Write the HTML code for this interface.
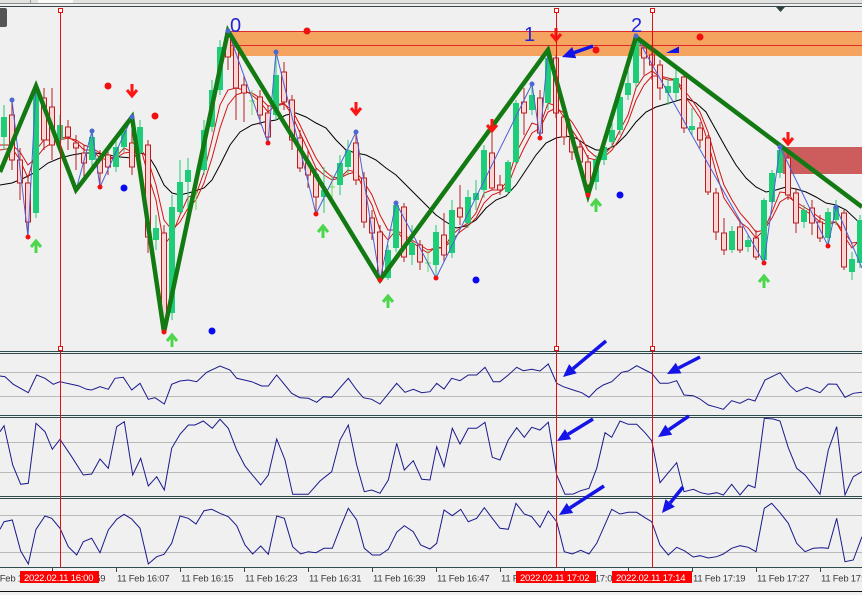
<!DOCTYPE html>
<html><head><meta charset="utf-8"><style>
html,body{margin:0;padding:0;background:#f0f0f0;}
svg{display:block;}
.t{font-family:"Liberation Sans",Arial,sans-serif;font-size:9.5px;letter-spacing:-0.25px;fill:#3a3a3a;}
.tb{font-family:"Liberation Sans",Arial,sans-serif;font-size:9.5px;letter-spacing:-0.25px;fill:#ffffff;}
.n{font-family:"Liberation Sans",Arial,sans-serif;font-size:20px;fill:#2424d4;}
</style></head><body>
<svg width="862" height="595" viewBox="0 0 862 595" xmlns="http://www.w3.org/2000/svg">
<defs>
<clipPath id="cm"><rect x="0" y="7" width="862" height="344"/></clipPath>
<clipPath id="c1"><rect x="0" y="354" width="862" height="61"/></clipPath>
<clipPath id="c2"><rect x="0" y="418" width="862" height="78"/></clipPath>
<clipPath id="c3"><rect x="0" y="499" width="862" height="68"/></clipPath>
</defs>
<rect x="0" y="0" width="862" height="595" fill="#f0f0f0"/>
<!-- top strip -->
<rect x="0" y="0" width="862" height="3" fill="#e2e2e2"/>
<rect x="38" y="0" width="35" height="3" fill="#fafafa"/>
<line x1="30.5" y1="0" x2="30.5" y2="3" stroke="#999"/>
<line x1="0" y1="3.5" x2="862" y2="3.5" stroke="#8c8c8c"/>
<line x1="0" y1="6.5" x2="862" y2="6.5" stroke="#34484a"/>
<rect x="-3" y="8" width="10" height="19" rx="2" fill="#555"/>
<polygon points="776,7 785,7 780.5,12" fill="#2f4040"/>

<g clip-path="url(#cm)">
<!-- zones -->
<rect x="230" y="31" width="632" height="25" fill="#f5a460"/>
<line x1="230" y1="31.5" x2="862" y2="31.5" stroke="#e02a2a"/>
<line x1="230" y1="45.5" x2="862" y2="45.5" stroke="#e02a2a"/>
<rect x="783" y="147" width="79" height="27" fill="#cd5c5c"/>
<!-- MAs -->
<polyline fill="none" stroke="#000" stroke-width="1" points="0,185 12,183 24,178 36,172 48,163 60,158 72,155 84,153 96,153 108,155 120,157 132,158 140,153 148,155 156,168 164,185 172,193 180,195 192,192 204,188 212,180 220,165 230,145 240,132 252,125 264,122 276,120 286,115 296,113 306,117 316,123 326,128 336,140 346,150 356,153 366,155 376,160 386,168 396,175 406,185 416,195 426,205 436,215 446,222 456,228 466,226 476,220 486,208 496,200 506,196 516,185 526,170 536,155 546,143 556,138 566,136 576,138 586,145 596,150 606,150 616,145 626,135 636,122 646,112 656,107 666,104 676,101 686,98 696,103 706,112 716,130 726,148 736,165 746,178 756,187 766,192 776,190 786,187 796,189 806,192 816,197 826,203 836,205 846,210 862,225"/>
<polyline fill="none" stroke="#d41414" stroke-width="1" points="0,145 12,145 20,152 28,165 36,158 44,148 52,143 60,140 68,138 76,140 84,145 92,148 100,153 108,157 116,158 124,153 132,152 140,148 148,160 156,185 164,220 172,230 180,222 188,208 196,200 204,183 212,158 220,128 228,105 236,95 244,92 252,93 260,98 268,106 276,106 284,104 292,110 300,125 308,142 316,158 324,170 332,177 340,178 348,174 356,172 364,182 372,195 380,215 388,230 396,230 404,235 412,240 420,245 428,250 436,248 444,248 452,240 460,232 468,226 476,218 484,203 492,195 500,192 508,185 516,165 524,148 532,133 540,128 548,112 556,108 564,113 572,122 580,135 588,150 596,157 604,157 612,150 620,138 628,122 636,100 644,85 652,76 660,76 668,78 676,80 684,90 692,100 700,112 708,132 716,160 724,185 732,200 740,213 748,222 756,232 764,230 772,218 780,202 788,197 796,202 804,207 812,212 820,218 828,222 836,222 844,232 852,243 860,242"/>
<polyline fill="none" stroke="#d41414" stroke-width="1" points="0,150 12,148 20,160 28,178 36,150 44,140 52,140 60,138 68,137 76,142 84,150 92,150 100,158 108,160 116,157 124,148 132,152 140,145 148,175 156,200 164,245 172,235 180,215 188,197 196,195 204,172 212,140 220,105 228,90 236,88 244,90 252,95 260,102 268,112 276,105 284,103 292,115 300,133 308,150 316,168 324,175 332,180 340,178 348,170 356,172 364,190 372,205 380,230 388,240 396,230 404,240 412,242 420,248 428,253 436,247 444,248 452,235 460,228 468,223 476,213 484,193 492,190 500,190 508,180 516,153 524,138 532,123 540,126 548,103 556,106 564,117 572,130 580,142 588,158 596,160 604,155 612,146 620,130 628,115 636,88 644,76 652,71 660,77 668,80 676,80 684,95 692,106 700,118 708,142 716,172 724,198 732,210 740,222 748,228 756,238 764,230 772,212 780,192 788,193 796,205 804,210 812,215 820,222 828,225 836,222 844,236 852,248 860,240"/>
<!-- candles -->
<path fill="none" stroke="#1ec874" stroke-width="1" d="M4 105V150M36 86V218M60 115V150M92 131V168M116 140V172M124 125V152M140 120V160M156 215V250M172 195V320M180 160V215M188 158V215M204 120V175M212 80V132M220 40V95M276 52V120M324 167V213M340 155V195M348 140V175M388 245V280M396 203V252M412 225V265M436 225V278M452 200V258M468 190V228M476 180V210M484 145V198M508 160V195M516 100V165M532 84V115M548 50V110M596 155V190M604 140V165M612 120V148M620 90V135M628 70V100M636 36V88M668 78V105M676 70V100M692 108V135M732 226V253M748 235V252M764 198V263M772 170V208M780 147V178M804 205V228M828 208V246M836 200V225M852 252V280M860 215V268"/>
<path fill="#1ecd78" d="M1 117h6V137h-6z M33 87h6V213h-6z M57 125h6V140h-6z M89 137h6V160h-6z M113 147h6V167h-6z M121 130h6V147h-6z M137 127h6V153h-6z M153 228h6V240h-6z M169 207h6V313h-6z M177 182h6V212h-6z M185 170h6V182h-6z M201 130h6V170h-6z M209 90h6V127h-6z M217 47h6V90h-6z M273 75h6V115h-6z M321 190h6V197h-6z M337 163h6V185h-6z M345 150h6V167h-6z M385 250h6V278h-6z M393 205h6V248h-6z M409 243h6V255h-6z M433 232h6V265h-6z M449 210h6V253h-6z M465 197h6V223h-6z M473 193h6V200h-6z M481 150h6V190h-6z M505 162h6V192h-6z M513 103h6V162h-6z M529 95h6V110h-6z M545 58h6V103h-6z M593 160h6V182h-6z M601 147h6V160h-6z M609 130h6V142h-6z M617 97h6V130h-6z M625 83h6V95h-6z M633 37h6V83h-6z M665 86h6V93h-6z M673 78h6V93h-6z M689 126h6V130h-6z M729 231h6V250h-6z M745 240h6V247h-6z M761 200h6V260h-6z M769 173h6V202h-6z M777 150h6V173h-6z M801 210h6V222h-6z M825 212h6V238h-6z M833 207h6V220h-6z M849 259h6V272h-6z M857 220h6V263h-6z"/>
<path fill="none" stroke="#b81e1e" stroke-width="1" d="M12 100V170M20 148V200M28 175V237M44 88V150M52 88V160M68 120V150M76 135V170M84 145V180M100 150V187M108 145V175M132 117V175M148 140V253M164 225V332M228 31V70M236 40V120M244 75V122M260 90V125M268 105V143M284 62V110M292 95V150M300 130V172M308 150V188M316 168V214M356 132V185M364 172V228M372 210V240M380 225V280M404 203V262M420 240V270M444 213V262M460 185V225M492 120V190M500 175V195M524 88V135M540 90V138M556 55V118M564 112V145M572 130V160M580 140V170M588 155V195M644 42V75M652 45V80M660 60V100M684 72V133M700 122V148M708 135V195M716 188V240M724 218V255M740 222V253M756 230V260M788 152V200M796 188V233M812 200V235M820 215V242M844 210V270"/>
<path fill="#fad4d4" stroke="#b81e1e" stroke-width="1" d="M9.5 115h5V160h-5z M17.5 160h5V183h-5z M25.5 183h5V222h-5z M41.5 98h5V140h-5z M49.5 107h5V145h-5z M65.5 127h5V137h-5z M73.5 143h5V148h-5z M81.5 153h5V163h-5z M97.5 160h5V173h-5z M105.5 155h5V167h-5z M129.5 143h5V167h-5z M145.5 145h5V237h-5z M161.5 233h5V327h-5z M225.5 33h5V57h-5z M233.5 47h5V88h-5z M241.5 85h5V93h-5z M257.5 97h5V115h-5z M265.5 113h5V137h-5z M281.5 72h5V102h-5z M289.5 100h5V140h-5z M297.5 138h5V168h-5z M305.5 163h5V175h-5z M313.5 175h5V197h-5z M353.5 143h5V180h-5z M361.5 178h5V222h-5z M369.5 218h5V233h-5z M377.5 232h5V277h-5z M401.5 207h5V257h-5z M417.5 245h5V262h-5z M441.5 235h5V255h-5z M457.5 208h5V217h-5z M489.5 153h5V188h-5z M497.5 185h5V190h-5z M521.5 102h5V113h-5z M537.5 98h5V133h-5z M553.5 58h5V113h-5z M561.5 117h5V137h-5z M569.5 138h5V152h-5z M577.5 147h5V162h-5z M585.5 162h5V185h-5z M641.5 48h5V58h-5z M649.5 55h5V65h-5z M657.5 65h5V88h-5z M681.5 77h5V128h-5z M697.5 128h5V140h-5z M705.5 138h5V192h-5z M713.5 193h5V232h-5z M721.5 233h5V250h-5z M737.5 227h5V250h-5z M753.5 238h5V257h-5z M785.5 158h5V195h-5z M793.5 193h5V223h-5z M809.5 208h5V223h-5z M817.5 222h5V238h-5z M841.5 213h5V267h-5z"/>
<path fill="none" stroke="#66dd55" stroke-width="1" d="M196 180V210M193 193h6M252 90V115M249 101h6M332 175V200M329 187h6M428 250V272M425 263h6"/>
<!-- thin zigzag -->
<polyline fill="none" stroke="#4a62d6" stroke-width="1" points="12,100 28,237 36,86 76,190 92,131 100,187 132,117 164,332 228,31 268,143 276,52 316,214 356,132 380,280 396,203 436,278 532,84 540,138 548,50 588,195 636,36 764,263 780,147 828,246 836,207 862,268"/>
<!-- main zigzag -->
<polyline fill="none" stroke="#137a13" stroke-width="4.5" stroke-linejoin="miter" points="0,172 36,86 76,190 132,117 164,332 228,31 380,280 548,50 588,195 636,37 862,207"/>
<!-- dots -->
<g fill="#4a6ad0">
<circle cx="12" cy="100" r="2.5"/><circle cx="92" cy="131" r="2.5"/><circle cx="132" cy="117" r="2.5"/><circle cx="228" cy="31" r="2.5"/><circle cx="276" cy="52" r="2.5"/><circle cx="356" cy="132" r="2.5"/><circle cx="396" cy="203" r="2.5"/><circle cx="532" cy="84" r="2.5"/><circle cx="636" cy="36" r="2.5"/><circle cx="780" cy="147" r="2.5"/><circle cx="836" cy="207" r="2.5"/>
</g>
<g fill="#f01010">
<circle cx="28" cy="237" r="2.5"/><circle cx="100" cy="187" r="2.5"/><circle cx="164" cy="332" r="2.5"/><circle cx="268" cy="143" r="2.5"/><circle cx="316" cy="214" r="2.5"/><circle cx="380" cy="280" r="2.5"/><circle cx="436" cy="278" r="2.5"/><circle cx="540" cy="138" r="2.5"/><circle cx="588" cy="195" r="2.5"/><circle cx="764" cy="263" r="2.5"/><circle cx="828" cy="246" r="2.5"/>
<circle cx="108" cy="86" r="3.5"/><circle cx="155" cy="116" r="3.5"/><circle cx="307" cy="31" r="3.5"/><circle cx="596" cy="50" r="3.5"/><circle cx="700" cy="37" r="3.5"/>
</g>
<g fill="#0a0af0">
<circle cx="124" cy="188" r="3.5"/><circle cx="212" cy="331" r="3.5"/><circle cx="476" cy="280" r="3.5"/><circle cx="620" cy="195" r="3.5"/>
</g>
<!-- red down arrows -->
<path fill="none" stroke="#ff1414" stroke-width="3" d="M132 84V96M127 90L132 96L137 90 M356 102V114M351 108L356 114L361 108 M492 119V131M487 125L492 131L497 125 M556 28V40M551 34L556 40L561 34 M788 132V144M783 138L788 144L793 138"/>
<!-- green up arrows -->
<path fill="none" stroke="#4cd64c" stroke-width="3" d="M36 253V241M31 247L36 241L41 247 M172 347V335M167 341L172 335L177 341 M323 238V226M318 232L323 226L328 232 M388 308V296M383 302L388 296L393 302 M596 212V200M591 206L596 200L601 206 M764 288V276M759 282L764 276L769 282"/>
<!-- labels -->
<text class="n" x="230" y="32">0</text>
<text class="n" x="524" y="41">1</text>
<text class="n" x="631" y="32">2</text>
<!-- blue main arrow -->
<line x1="593" y1="46" x2="574" y2="52.7" stroke="#1414e6" stroke-width="3.5"/>
<polygon points="562,57 572.2,47 576.2,58.3" fill="#1414e6"/>
<polygon points="666,53 679,46.5 679,53" fill="#1414e6"/>
</g>

<!-- subwindow gridlines -->
<g stroke="#b9b9b9" stroke-width="1">
<line x1="0" y1="372.5" x2="862" y2="372.5"/><line x1="0" y1="396.5" x2="862" y2="396.5"/>
<line x1="0" y1="442.5" x2="862" y2="442.5"/><line x1="0" y1="472.5" x2="862" y2="472.5"/>
<line x1="0" y1="515.5" x2="862" y2="515.5"/><line x1="0" y1="552.5" x2="862" y2="552.5"/>
</g>
<!-- separators -->
<g stroke="#2f4a4a" stroke-width="1">
<line x1="0" y1="351.5" x2="862" y2="351.5"/><line x1="0" y1="353.5" x2="862" y2="353.5"/>
<line x1="0" y1="415.5" x2="862" y2="415.5"/><line x1="0" y1="417.5" x2="862" y2="417.5"/>
<line x1="0" y1="496.5" x2="862" y2="496.5"/><line x1="0" y1="498.5" x2="862" y2="498.5"/>
<line x1="0" y1="567.5" x2="862" y2="567.5"/>
</g>
<!-- oscillators -->
<g fill="none" stroke="#1a1a8c" stroke-width="1">
<polyline clip-path="url(#c1)" points="0,376 5,376.7 13.3,384.3 28.3,392.7 36.7,375 45,378.3 53.3,384.3 60,381.7 66.7,383.3 78.3,385.7 86.7,389.3 91.7,390 100,386.7 108.3,389.3 115,378.3 123.3,377.3 131.7,390 140,383.3 148.3,399.3 155,397.7 164.3,404 171.7,384.3 180,381 188.3,380 196.7,381.7 206.7,372.3 220,366 230,370 236.7,378.3 251.7,381.7 261.7,386 268.3,386 276.7,375 291.7,393.3 300,397.7 308.3,398.3 316.7,402.3 323.3,396.7 331.7,397.3 348.3,378.3 356.7,390 363.3,397.7 371.7,399.3 380,404 396.7,383.3 405,392.3 413.3,389.3 421.7,392.7 430,391.7 436.7,383.3 444,389 451.7,378.3 460,380.7 468.3,375 476.7,375 485,367.3 493.3,381.7 500,381.7 508.3,375 516.7,367.3 523.3,370.7 531.7,369.3 540,371 548.3,364 556.7,383.3 563.3,386.7 573.3,390 581.7,392.7 589,397.3 596.7,389.3 603.3,385 611.7,381.7 621.7,372.3 628.3,371 636.7,365.7 645,370 651.7,373.3 660,383.3 668.3,383.3 676.7,380.7 684,395 693.3,395.7 700,399 708.3,405 716.7,407.3 723.3,409.3 731.7,400.7 740,403.3 748.3,399 755,401 765,380 780,372.7 790,385.7 796.7,391.7 806.7,387.3 820,392.7 828.3,384 836.7,384.3 845,397.3 853.3,393.3 862,392.3"/>
<polyline clip-path="url(#c2)" points="0,431.7 4,425.7 12.7,465 20.7,484.3 28.3,483.3 36,423.3 45,431.7 52.3,449.3 60,439.3 71.7,456.7 83.3,475 91.7,474 100,459 108.3,468.3 116.7,426.7 124.3,421.7 132.7,475 140.7,458.3 148.3,486 156.7,476.7 164.3,490 171.7,448.3 180,434.3 188.3,425 195,425 203.3,421 212.3,428.3 220,419.3 228.3,428.3 236.7,450 245,466 260.7,485 268.3,475 276.7,439 285,460 292.7,494.3 308.3,494.3 320,481 331.7,471.7 340,440 348.3,425 356.7,465 364.3,491.7 371.7,490 380,493.3 388.3,480 396.7,443.3 404.3,470 413.3,460.7 421.7,479.3 430,480 436.7,446.7 444,466.7 452.3,428.3 460,444 468.3,428.3 476.7,428.3 485,422.3 492.3,457.3 500,460 508.3,440 516.7,427.7 524.3,437.3 531.7,427.3 540,430 548.3,422.3 556.7,475 565,494.3 573.3,494 580.7,490.7 589,488.3 596.7,468.3 605,432.7 611.7,437.3 620,421 628.3,424.3 636.7,424.3 645,432.7 651.7,440.7 660,482.7 668.3,472.7 676.7,462.7 684,491.7 693.3,489.3 700.7,492.7 708.3,494.3 716.7,492.7 723.3,495 731.7,484.3 740,495 748.3,485 755,487.7 764.3,418.3 773.3,419 780,421 788.3,447.7 796.7,468.3 805,475 820,494.3 828.3,450 836.7,426.7 845,495 853.3,476.7 862,471.7"/>
<polyline clip-path="url(#c3)" points="0,529.3 4,521.7 12.3,520 20.7,551 28.3,564 36,529.3 45,516 51.7,518.3 60,528.3 68.3,546.7 76.7,555 83.3,541.7 91.7,538.3 100,552.7 108.3,530 116.7,519.3 124,514.3 131.7,519 140,528.3 148.3,564 156.7,556.7 164,554.3 171.7,543.3 180,516 188.3,518.3 196,524 204,510.7 211.7,509.3 220,513.3 228.3,516.7 236.7,525.7 245,545 252.7,554 260.7,546 268.3,554.3 276.7,516 284.3,518.3 292.7,546.7 300.7,554 308.3,551.7 316,552.7 324,548.3 332.3,548.3 340,528.3 348.3,508.3 356.7,520 364.3,548.3 372.3,555 380,555 388.3,549.3 396.7,532.3 404.3,525.7 413.3,531.7 420.7,545 430,549 436.7,543.3 444,510 452.3,515.7 460.7,509.3 468.3,521.7 476.7,518.3 484.3,507.7 492.3,518.3 500,528.3 508.3,529.3 516,503.3 524.3,514 531.7,516.7 540,527.3 548.3,511 556.7,521.7 564.3,551.7 572.3,554 580.7,550.3 589,554 596.7,543.3 611.7,509.3 620,514 628.3,512.3 636.7,512.3 645,517.7 651.7,521.7 660,545 668.3,555 676.7,547.3 684.3,550.7 693.3,557 700,555.7 708.3,558 716.7,556.7 723.3,554 731.7,548.3 740,545.7 748.3,547.3 756,551.7 764.3,508.3 771.7,503.3 780,512.7 788.3,523.3 796.7,543.3 805,551.7 813.3,548.3 821.7,547.7 828.3,548.3 836.7,518.3 845,561.7 853.3,560 862,536.7"/>
</g>
<!-- vertical red lines -->
<g stroke="#e01010" stroke-width="1">
<line x1="60.5" y1="12" x2="60.5" y2="568"/>
<line x1="556.5" y1="12" x2="556.5" y2="568"/>
<line x1="652.5" y1="12" x2="652.5" y2="568"/>
</g>
<g fill="#fff" stroke="#e01010" stroke-width="1">
<rect x="58.5" y="8.5" width="4" height="4"/><rect x="58.5" y="346.5" width="4" height="4"/>
<rect x="554.5" y="8.5" width="4" height="4"/><rect x="554.5" y="346.5" width="4" height="4"/>
<rect x="650.5" y="8.5" width="4" height="4"/><rect x="650.5" y="346.5" width="4" height="4"/>
</g>
<!-- sub arrows -->
<g stroke="#1414e6" stroke-width="3.5">
<line x1="606" y1="341" x2="573" y2="368.7"/>
<line x1="700" y1="357" x2="678.6" y2="368"/>
<line x1="593" y1="419" x2="568.1" y2="434.2"/>
<line x1="689" y1="416" x2="668.8" y2="429.7"/>
<line x1="604" y1="486" x2="569.9" y2="508"/>
<line x1="683" y1="487" x2="670.2" y2="502.9"/>
</g>
<g fill="#1414e6">
<polygon points="563,377 569.1,364.1 576.8,373.3"/>
<polygon points="667,374 675.8,362.7 681.4,373.4"/>
<polygon points="557,441 565,429.1 571.2,439.3"/>
<polygon points="658,437 665.4,424.7 672.2,434.7"/>
<polygon points="559,515 566.7,503 573.2,513"/>
<polygon points="662,513 665.5,499.1 674.9,506.7"/>
</g>
<!-- time axis -->
<g stroke="#3a4a4a" stroke-width="1">
<line x1="52.5" y1="568" x2="52.5" y2="572"/><line x1="116.5" y1="568" x2="116.5" y2="572"/><line x1="180.5" y1="568" x2="180.5" y2="572"/><line x1="244.5" y1="568" x2="244.5" y2="572"/><line x1="308.5" y1="568" x2="308.5" y2="572"/><line x1="372.5" y1="568" x2="372.5" y2="572"/><line x1="436.5" y1="568" x2="436.5" y2="572"/><line x1="500.5" y1="568" x2="500.5" y2="572"/><line x1="564.5" y1="568" x2="564.5" y2="572"/><line x1="628.5" y1="568" x2="628.5" y2="572"/><line x1="692.5" y1="568" x2="692.5" y2="572"/><line x1="756.5" y1="568" x2="756.5" y2="572"/><line x1="820.5" y1="568" x2="820.5" y2="572"/>
</g>
<text class="t" x="-12" y="581.5">11 Feb 15:51</text>
<text class="t" x="53" y="581.5">11 Feb 15:59</text>
<text class="t" x="117" y="581.5">11 Feb 16:07</text>
<text class="t" x="181" y="581.5">11 Feb 16:15</text>
<text class="t" x="245" y="581.5">11 Feb 16:23</text>
<text class="t" x="309" y="581.5">11 Feb 16:31</text>
<text class="t" x="373" y="581.5">11 Feb 16:39</text>
<text class="t" x="437" y="581.5">11 Feb 16:47</text>
<text class="t" x="501" y="581.5">11 Feb 16:55</text>
<text class="t" x="565" y="581.5">11 Feb 17:03</text>
<text class="t" x="629" y="581.5">11 Feb 17:11</text>
<text class="t" x="693" y="581.5">11 Feb 17:19</text>
<text class="t" x="757" y="581.5">11 Feb 17:27</text>
<text class="t" x="821" y="581.5">11 Feb 17:35</text>
<rect x="20" y="571" width="79" height="12" fill="#ff0000"/>
<text class="tb" x="24" y="581">2022.02.11 16:00</text>
<rect x="516" y="571" width="80" height="12" fill="#ff0000"/>
<text class="tb" x="520" y="581">2022.02.11 17:02</text>
<rect x="612" y="571" width="80" height="12" fill="#ff0000"/>
<text class="tb" x="616" y="581">2022.02.11 17:14</text>
<line x1="0" y1="591.5" x2="862" y2="591.5" stroke="#111" stroke-width="1"/>
</svg>
</body></html>
